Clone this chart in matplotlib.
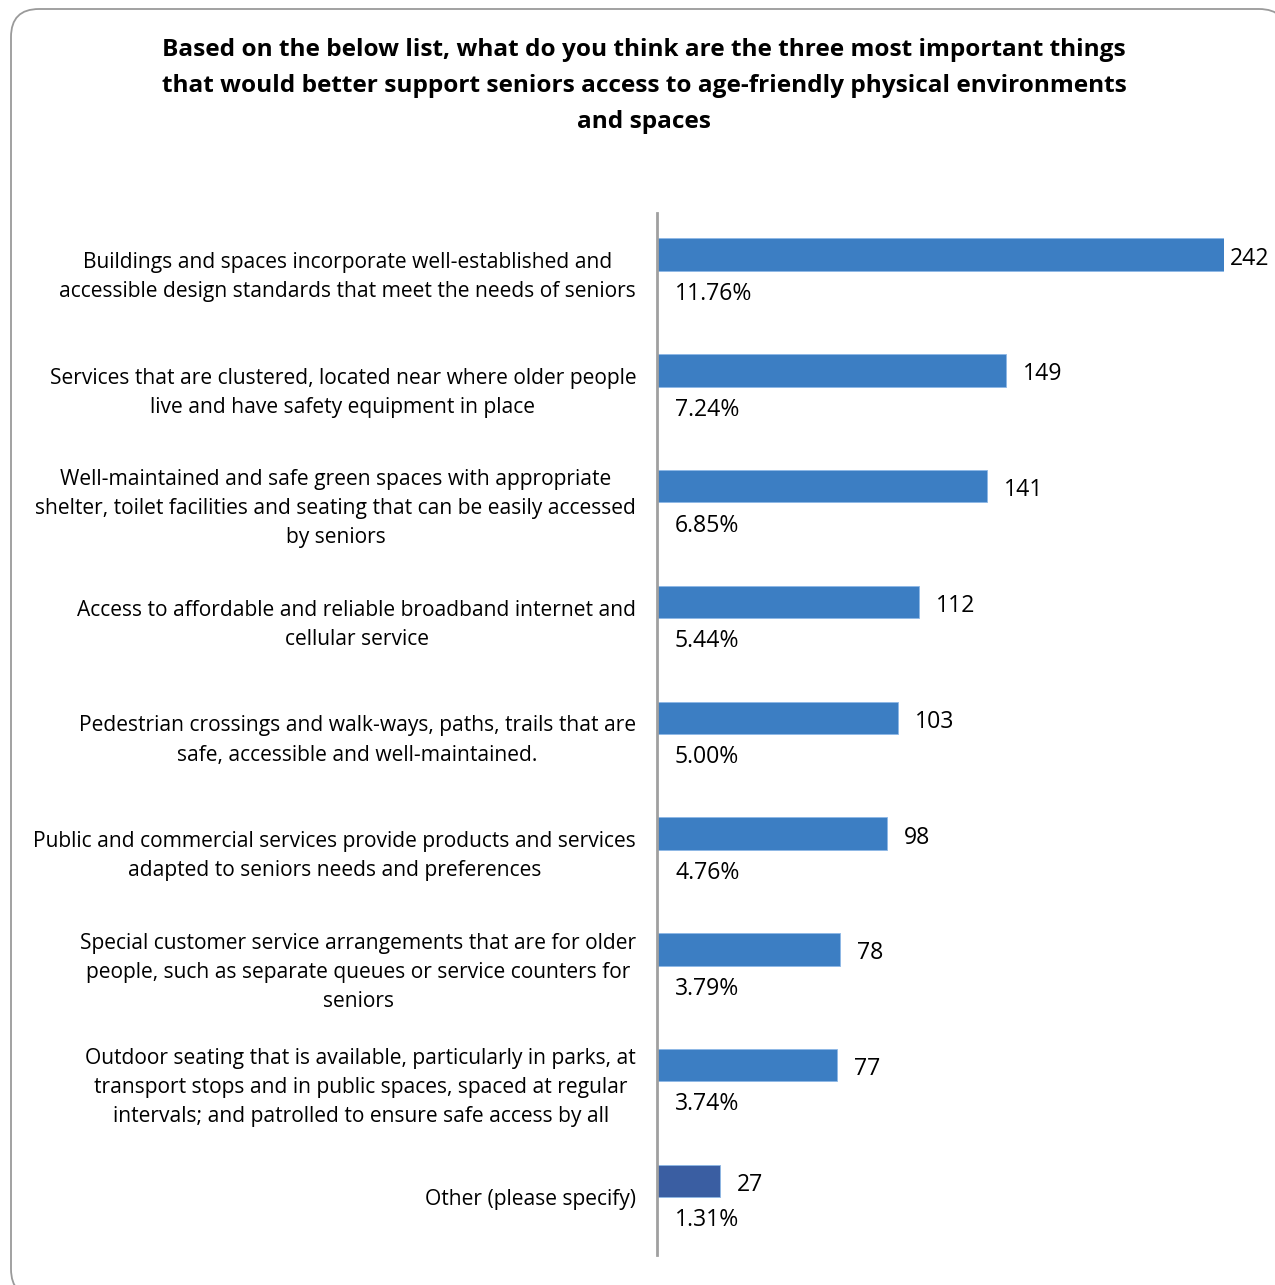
import matplotlib
matplotlib.use("Agg")
import matplotlib.pyplot as plt
from matplotlib.patches import FancyBboxPatch
import matplotlib.transforms as mtransforms

plt.rcParams['font.family'] = ['Open Sans', 'DejaVu Sans']

title = ("Based on the below list, what do you think are the three most important things\n"
         "that would better support seniors access to age-friendly physical environments\n"
         "and spaces")

categories = [
    "Buildings and spaces incorporate well-established and\naccessible design standards that meet the needs of seniors",
    "Services that are clustered, located near where older people\nlive and have safety equipment in place",
    "Well-maintained and safe green spaces with appropriate\nshelter, toilet facilities and seating that can be easily accessed\nby seniors",
    "Access to affordable and reliable broadband internet and\ncellular service",
    "Pedestrian crossings and walk-ways, paths, trails that are\nsafe, accessible and well-maintained.",
    "Public and commercial services provide products and services\nadapted to seniors needs and preferences",
    "Special customer service arrangements that are for older\npeople, such as separate queues or service counters for\nseniors",
    "Outdoor seating that is available, particularly in parks, at\ntransport stops and in public spaces, spaced at regular\nintervals; and patrolled to ensure safe access by all",
    "Other (please specify)",
]
counts = [242, 149, 141, 112, 103, 98, 78, 77, 27]
percents = ["11.76%", "7.24%", "6.85%", "5.44%", "5.00%", "4.76%", "3.79%", "3.74%", "1.31%"]
colors = ["#3C7EC3"] * 8 + ["#3A5EA2"]

W, H = 1275, 1285
fig = plt.figure(figsize=(W / 100, H / 100), dpi=100)

# frame drawn in a full-figure pixel-coordinate axes
bg = fig.add_axes([0, 0, 1, 1], zorder=-1)
bg.set_xlim(0, W)
bg.set_ylim(H, 0)
bg.axis("off")
fl, ft, fr, fb = 11, 9, 1287, 1297
frame = FancyBboxPatch((fl, ft), fr - fl, fb - ft,
                       boxstyle="round,pad=0,rounding_size=28",
                       facecolor="white", edgecolor="#9A9A9A", linewidth=1.3,
                       clip_on=False)
bg.add_patch(frame)

fig.text(644 / W, 1 - 86 / H, title, ha="center", va="center", fontsize=17.6,
         fontweight="bold", linespacing=1.64)

ax_left, ax_right = 657, 1224
ax_top, ax_bot = 213, 1255
ax = fig.add_axes([ax_left / W, 1 - ax_bot / H, (ax_right - ax_left) / W, (ax_bot - ax_top) / H])
ax.set_facecolor("none")

n = len(categories)
ys = list(range(n))
bar_off = -0.14
bar_h = 0.28
ax.barh([y + bar_off for y in ys], counts, height=bar_h, color=colors,
        edgecolor="#8DB8E6", linewidth=0.6)
ax.set_xlim(0, max(counts))
ax.set_ylim(n - 0.5, -0.5)

for s in ["top", "right", "bottom"]:
    ax.spines[s].set_visible(False)
ax.spines["left"].set_color("#A0A0A0")
ax.spines["left"].set_linewidth(2)
ax.set_xticks([])
ax.set_yticks(ys)
ax.set_yticklabels(categories, fontsize=15.1, multialignment="center", linespacing=1.5)
ax.tick_params(axis="y", length=0, pad=15)

for y, c, p in zip(ys, counts, percents):
    dx = 17 if c < max(counts) else 6
    off = mtransforms.offset_copy(ax.transData, fig=fig, x=dx * 0.72, y=-4 * 0.72, units="points")
    ax.text(c, y + bar_off, str(c), transform=off, ha="left", va="center",
            fontsize=16.6, clip_on=False)
    off2 = mtransforms.offset_copy(ax.transData, fig=fig, x=18 * 0.72, y=0, units="points")
    ax.text(0, y + 0.2, p, transform=off2, ha="left", va="center", fontsize=16.6)

fig.savefig("out.png", dpi=100)
